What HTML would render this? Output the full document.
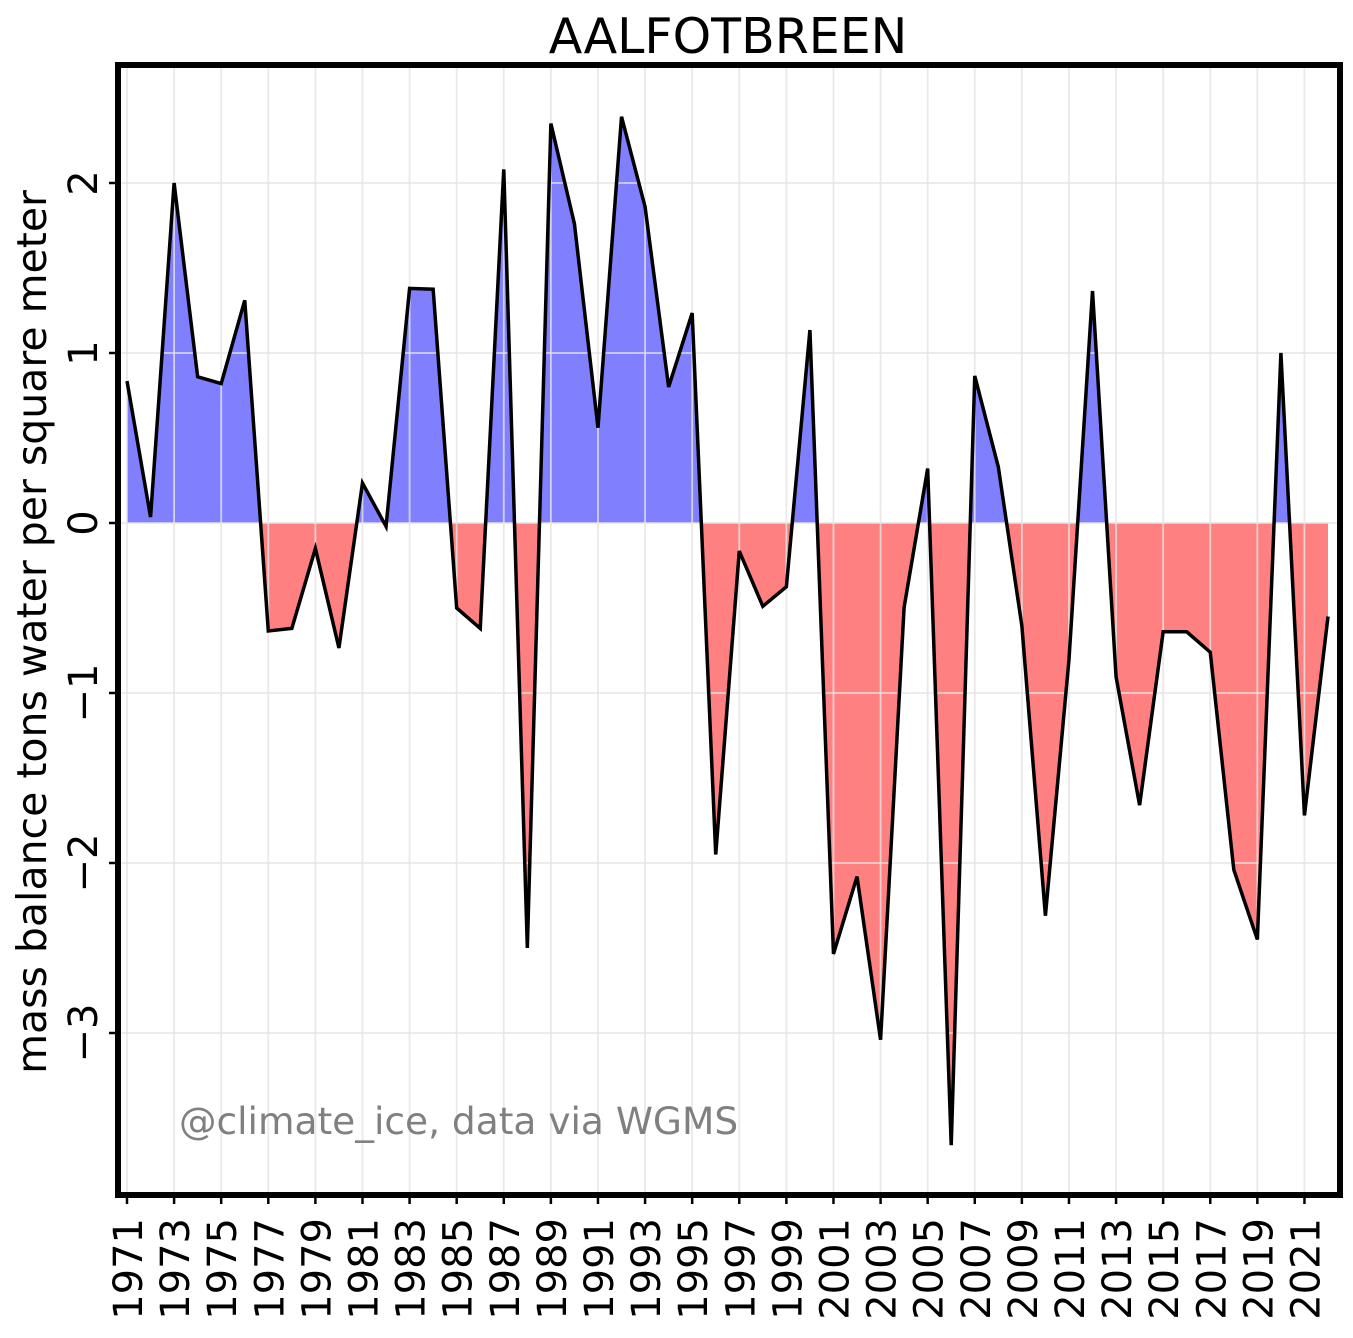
<!DOCTYPE html>
<html><head><meta charset="utf-8"><style>
body{margin:0;background:#fff}
text{font-family:"DejaVu Sans","Liberation Sans",sans-serif}
</style></head><body>
<svg id="chart" width="1353" height="1333" xmlns="http://www.w3.org/2000/svg">
<defs>
<clipPath id="above"><rect id="clipA" x="118" y="65" width="1222" height="458"/></clipPath>
<clipPath id="below"><rect id="clipB" x="118" y="523" width="1222" height="672"/></clipPath>
</defs>
<g id="fills"></g>
<g id="grid"></g>
<g id="line"></g>
<g id="axes"></g>
<text x="728" y="53" font-size="49" text-anchor="middle">AALFOTBREEN</text>
<text transform="translate(46,632) rotate(-90)" font-size="41" text-anchor="middle">mass balance tons water per square meter</text>
<text x="179" y="1134" font-size="37.5" fill="#808080">@climate_ice, data via WGMS</text>
</svg>
<script>
const years = [];
for (let y = 1971; y <= 2022; y++) years.push(y);
const values = [0.835,0.035,2.0,0.86,0.82,1.31,-0.635,-0.62,-0.15,-0.735,0.235,-0.02,1.38,1.375,-0.5,-0.62,2.08,-2.5,2.35,1.76,0.56,2.39,1.86,0.8,1.235,-1.95,-0.165,-0.49,-0.375,1.135,-2.535,-2.08,-3.04,-0.495,0.32,-3.66,0.865,0.33,-0.605,-2.31,-0.805,1.365,-0.905,-1.66,-0.64,-0.64,-0.76,-2.04,-2.45,1.0,-1.72,-0.55];
const yTicks = [-3,-2,-1,0,1,2];
const xTicks = [];
for (let y = 1971; y <= 2021; y += 2) xTicks.push(y);

const NS = "http://www.w3.org/2000/svg";
const X0=118, X1=1340, Y0=65, Y1=1195;
const xs = y => 127 + (y - 1971) * (1328 - 127) / 51;
const ys = v => 523 - v * 170;
function mk(tag, attrs, parent){const e=document.createElementNS(NS,tag);for(const k in attrs)e.setAttribute(k,attrs[k]);parent.appendChild(e);return e;}
const zero = ys(0);
document.getElementById('clipA').setAttribute('height', zero - Y0);
document.getElementById('clipB').setAttribute('y', zero);
document.getElementById('clipB').setAttribute('height', Y1 - zero);

let pts = years.map((y,i)=>xs(y).toFixed(2)+','+ys(values[i]).toFixed(2));
let poly = `M${xs(years[0])},${zero} L` + pts.join(' L') + ` L${xs(years[years.length-1])},${zero} Z`;
const fills = document.getElementById('fills');
const pa = mk('path',{d:poly,fill:'#8080ff','clip-path':'url(#above)'},fills);


const pb = mk('path',{d:poly,fill:'#ff8080','clip-path':'url(#below)'},fills);



const grid = document.getElementById('grid');
xTicks.forEach(t=>{const l=mk('line',{x1:xs(t),x2:xs(t),y1:Y0,y2:Y1,stroke:'#e4e4e4','stroke-opacity':0.8,'stroke-width':1.8},grid);

});
yTicks.forEach(t=>{const l=mk('line',{x1:X0,x2:X1,y1:ys(t),y2:ys(t),stroke:'#e4e4e4','stroke-opacity':0.8,'stroke-width':1.8},grid);

});

const ln = mk('polyline',{points:pts.join(' '),fill:'none',stroke:'#000','stroke-width':3.5,'stroke-linejoin':'miter'},document.getElementById('line'));



const axes = document.getElementById('axes');
const fr = mk('rect',{x:X0,y:Y0,width:X1-X0,height:Y1-Y0,fill:'none',stroke:'#000','stroke-width':6},axes);


xTicks.forEach(t=>{
  mk('line',{x1:xs(t),x2:xs(t),y1:Y1,y2:Y1+9,stroke:'#000','stroke-width':2.5},axes);
  const tx=mk('text',{transform:`translate(${xs(t)+15},${1218}) rotate(-90)`,'font-size':40,'text-anchor':'end'},axes);
  tx.textContent=t;
  
  
});
yTicks.forEach(t=>{
  mk('line',{x1:X0-9,x2:X0,y1:ys(t),y2:ys(t),stroke:'#000','stroke-width':2.5},axes);
  const tx=mk('text',{transform:`translate(${97},${ys(t)}) rotate(-90)`,'font-size':40,'text-anchor':'middle'},axes);
  tx.textContent=t<0?'\u2212'+Math.abs(t):String(t);
  
  
});
</script>
</body></html>
